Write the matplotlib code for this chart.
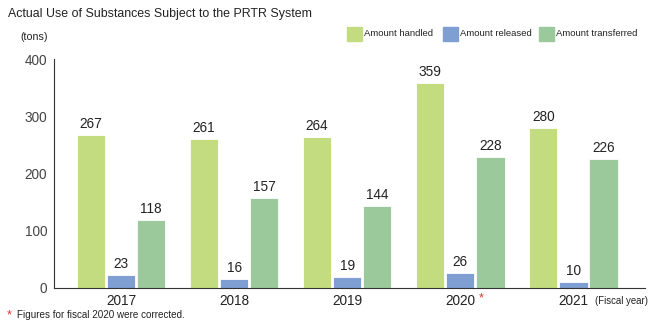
import matplotlib
matplotlib.use("Agg")
import matplotlib.pyplot as plt
from matplotlib import font_manager
from matplotlib.patches import Rectangle
import numpy as np

names = {f.name for f in font_manager.fontManager.ttflist}
FONT = "Liberation Sans Narrow" if "Liberation Sans Narrow" in names else "Liberation Sans"
NARROW = FONT == "Liberation Sans Narrow"
k = 1.0 if NARROW else 0.85
plt.rcParams['font.family'] = [FONT, 'DejaVu Sans']

years = ["2017", "2018", "2019", "2020", "2021"]
handled = [267, 261, 264, 359, 280]
released = [23, 16, 19, 26, 10]
transferred = [118, 157, 144, 228, 226]
series_names = ["Amount handled", "Amount released", "Amount transferred"]
colors = ["#c4dc80", "#7f9fd2", "#9cc99c"]
yticks = [0, 100, 200, 300, 400]

fig = plt.figure(figsize=(6.5, 3.28), dpi=100)
ax = fig.add_axes([0.083, 0.122, 0.910, 0.698])

x = np.arange(len(years))
off = 0.266
w = 0.25
txtc = "#222222"
for i, (vals, c) in enumerate(zip([handled, released, transferred], colors)):
    xs = x + (i - 1) * off
    ax.bar(xs, vals, width=w, color=c, edgecolor="white", linewidth=0.6, zorder=2)
    for xi, v in zip(xs, vals):
        ax.text(xi, v + 7, str(v), ha="center", va="bottom", fontsize=11.5 * k, color=txtc)

ax.set_xlim(-0.593, 4.637)
ax.set_ylim(0, 400)
ax.set_yticks(yticks)
ax.set_yticklabels([str(t) for t in yticks], fontsize=11.5 * k, color="#444444")
ax.set_xticks(x)
ax.set_xticklabels(years, fontsize=11.5 * k, color=txtc)
ax.tick_params(axis="y", length=0, pad=5)
ax.tick_params(axis="x", length=0, pad=4)
for s in ["top", "right"]:
    ax.spines[s].set_visible(False)
ax.spines["left"].set_color("#333333")
ax.spines["bottom"].set_color("#333333")
ax.spines["left"].set_linewidth(0.8)
ax.spines["bottom"].set_linewidth(0.8)

# asterisk next to 2020
ax.text(3 + 0.165, -0.02, "*", transform=ax.get_xaxis_transform(), color="#e03030",
        fontsize=9, ha="left", va="top")

fig.text(8 / 650, 1 - 14 / 328, "Actual Use of Substances Subject to the PRTR System",
         fontsize=10.5 * k, color=txtc, ha="left", va="center")
fig.text(20 / 650, 1 - 37 / 328, "(tons)", fontsize=9 * k, color=txtc, ha="left", va="center")
fig.text(595 / 650, 1 - 301 / 328, "(Fiscal year)", fontsize=8.2 * k, color=txtc, ha="left", va="center")
fig.text(7 / 650, 1 - 315 / 328, "*", fontsize=9, color="#e03030", ha="left", va="center")
fig.text(17 / 650, 1 - 315 / 328, "Figures for fiscal 2020 were corrected.", fontsize=8.4 * k,
         color=txtc, ha="left", va="center")

# legend
leg_x = [347, 443, 539]
for lx, name, c in zip(leg_x, series_names, colors):
    fig.patches.append(Rectangle((lx / 650, 1 - 41 / 328), 15 / 650, 14 / 328,
                                 transform=fig.transFigure, color=c, figure=fig))
    fig.text((lx + 17) / 650, 1 - 34 / 328, name, fontsize=8 * k, color=txtc, ha="left", va="center")

fig.savefig("out.png", dpi=100)
